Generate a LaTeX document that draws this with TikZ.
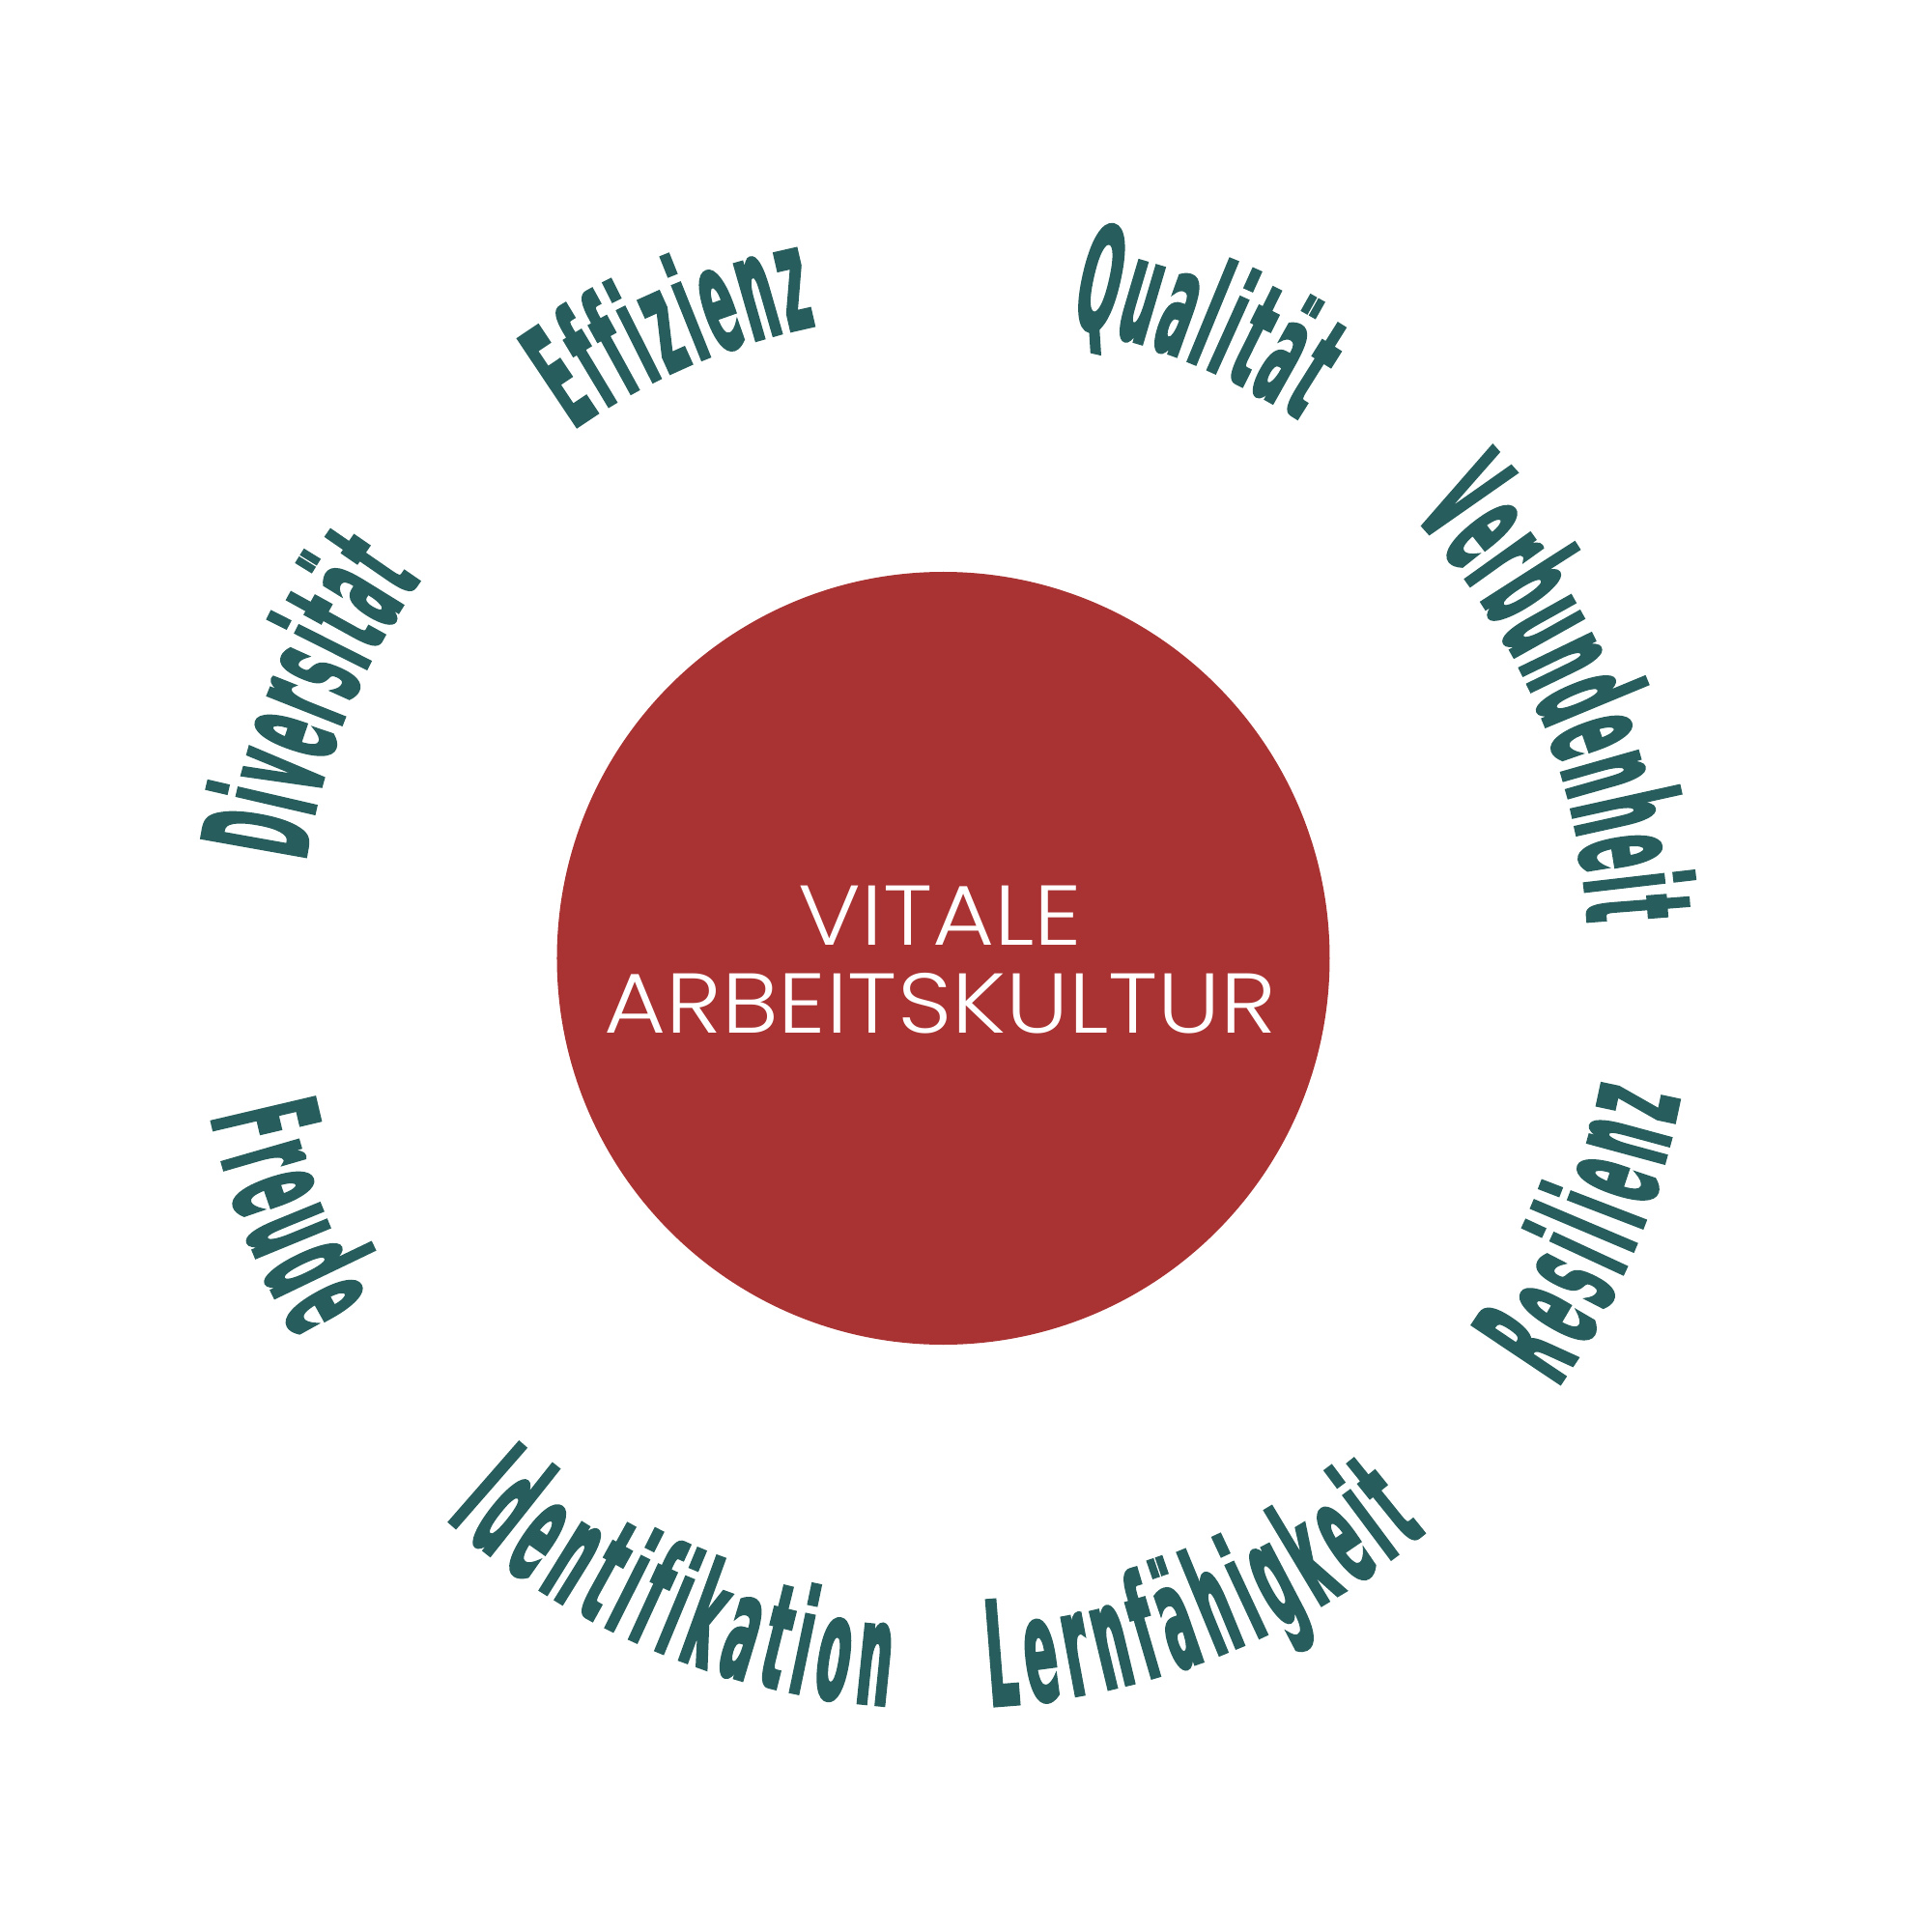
\documentclass[tikz,border=0pt]{standalone}
\usepackage{fontspec}
\usetikzlibrary{decorations.text}
\newfontfamily\arcfont{DejaVu Sans}[FakeStretch=0.33,FakeBold=1.6]
\IfFontExistsTF{Poppins Light}{\newfontfamily\ctrfont{Poppins Light}[FakeStretch=1.12]}{\newfontfamily\ctrfont{Poppins}[FakeStretch=1.12]}
\newcommand\arcstyle{\arcfont\bfseries\fontsize{43}{43}\selectfont\kern2pt}
\definecolor{ringred}{HTML}{A93333}
\definecolor{wordcol}{HTML}{275E5D}
\tikzset{
  arcword/.style={decorate, decoration={text along path, text align=center,
      raise=-15.4pt, text color=wordcol, text={|\arcstyle|#1}}},
  ctrtext/.style={text=white, inner sep=0pt, anchor=base,
      font=\ctrfont\fontsize{25}{25}\selectfont}
}
\begin{document}
\begin{tikzpicture}
\useasboundingbox (-9.765,-10.08) rectangle (10.235,9.92);
\fill[ringred] (0,0) circle[radius=4];
\node[ctrtext] (line1) at (-0.03,0.14) {VITALE};
\node[ctrtext] (line2) at (-0.03,-0.77) {ARBEITSKULTUR};
% upper words: clockwise, tops outward
\path[arcword=Diversität] (188:7.22) arc[start angle=188, end angle=128, radius=7.22];
\path[arcword=Effizienz] (143.45:7.22) arc[start angle=143.45, end angle=83.45, radius=7.22];
\path[arcword=Qualität] (97.9:7.22) arc[start angle=97.9, end angle=37.9, radius=7.22];
\path[arcword=Verbundenheit] (53.45:7.22) arc[start angle=53.45, end angle=-6.55, radius=7.22];
% lower words: counterclockwise, tops inward
\path[arcword=Freude] (171.1:7.22) arc[start angle=171.1, end angle=231.1, radius=7.22];
\path[arcword=Identifikation] (216.85:7.22) arc[start angle=216.85, end angle=276.85, radius=7.22];
\path[arcword=Lernfähigkeit] (261.55:7.22) arc[start angle=261.55, end angle=321.55, radius=7.22];
\path[arcword=Resilienz] (306.9:7.22) arc[start angle=306.9, end angle=366.9, radius=7.22];
\end{tikzpicture}
\end{document}
